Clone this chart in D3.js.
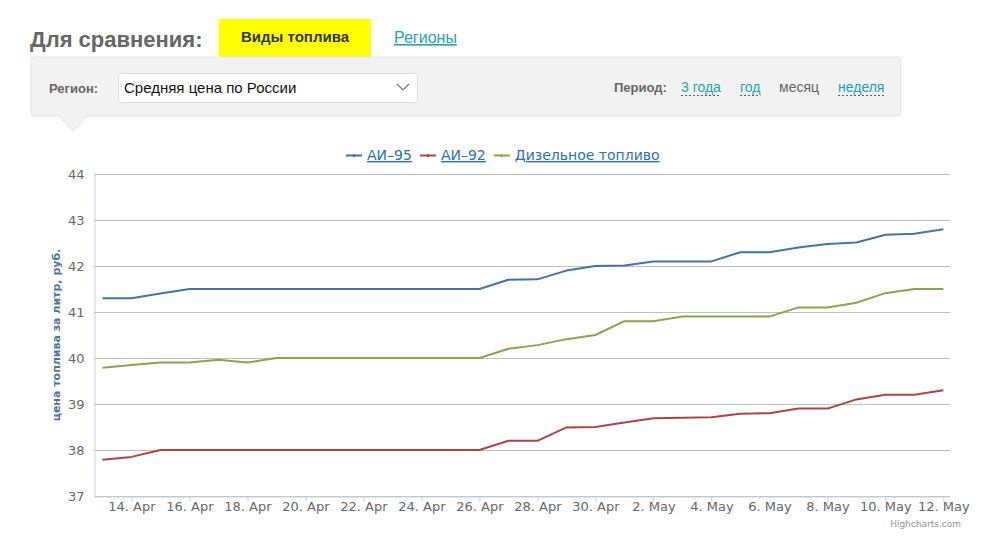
<!DOCTYPE html>
<html>
<head>
<meta charset="utf-8">
<script src="https://cdn.jsdelivr.net/npm/d3@7"></script>
<style>
  body { margin: 0; background: #fff; }
  svg { display: block; }
</style>
</head>
<body>
<svg id="chart" width="986" height="542"></svg>
<script>
// data: daily average fuel prices, rub per litre
const dates = [
  "2015-04-13", "2015-04-14", "2015-04-15", "2015-04-16", "2015-04-17", "2015-04-18",
  "2015-04-19", "2015-04-20", "2015-04-21", "2015-04-22", "2015-04-23", "2015-04-24",
  "2015-04-25", "2015-04-26", "2015-04-27", "2015-04-28", "2015-04-29", "2015-04-30",
  "2015-05-01", "2015-05-02", "2015-05-03", "2015-05-04", "2015-05-05", "2015-05-06",
  "2015-05-07", "2015-05-08", "2015-05-09", "2015-05-10", "2015-05-11", "2015-05-12"
];
const ai95 = [
  41.3, 41.3, 41.4, 41.5, 41.5, 41.5, 41.5, 41.5, 41.5, 41.5, 41.5, 41.5, 41.5, 41.5,
  41.7, 41.71, 41.9, 42.0, 42.01, 42.1, 42.1, 42.1, 42.3, 42.3, 42.4, 42.48, 42.51,
  42.68, 42.7, 42.8
];
const ai92 = [
  37.79, 37.85, 38.0, 38.0, 38.0, 38.0, 38.0, 38.0, 38.0, 38.0, 38.0, 38.0, 38.0, 38.0,
  38.2, 38.2, 38.49, 38.5, 38.6, 38.69, 38.7, 38.71, 38.79, 38.8, 38.9, 38.9, 39.1,
  39.2, 39.2, 39.3
];
const diesel = [
  39.79, 39.85, 39.9, 39.9, 39.96, 39.9, 40.0, 40.0, 40.0, 40.0, 40.0, 40.0, 40.0, 40.0,
  40.2, 40.28, 40.41, 40.5, 40.8, 40.8, 40.9, 40.9, 40.9, 40.9, 41.1, 41.1, 41.2,
  41.41, 41.5, 41.5
];
const seriesNames = ["АИ–95", "АИ–92", "Дизельное топливо"];
const seriesColors = ["#4572a7", "#aa4643", "#89a54e"];
const tickDays = [
  "2015-04-14", "2015-04-16", "2015-04-18", "2015-04-20", "2015-04-22", "2015-04-24",
  "2015-04-26", "2015-04-28", "2015-04-30", "2015-05-02", "2015-05-04", "2015-05-06",
  "2015-05-08", "2015-05-10", "2015-05-12"
];
const yTicks = [37, 38, 39, 40, 41, 42, 43, 44];
const periods = ["3 года", "год", "месяц", "неделя"];

const svg = d3.select("#chart");
const parse = d3.timeParse("%Y-%m-%d");
const fmt = d3.timeFormat("%-d. %b");
const hour = 3600 * 1000;

// ---------- page header ----------
const head = svg.append("g").style("font-family", "'Liberation Sans', Arial, sans-serif");

head.append("text").attr("x", 30).attr("y", 47)
  .attr("font-size", 22).attr("font-weight", "bold").attr("fill", "#666")
  .text("Для сравнения:");

head.append("rect").attr("x", 219).attr("y", 19).attr("width", 152).attr("height", 38)
  .attr("fill", "#ffff00");
head.append("text").attr("x", 295).attr("y", 42).attr("text-anchor", "middle")
  .attr("font-size", 15).attr("font-weight", "bold").attr("fill", "#333")
  .text("Виды топлива");

head.append("text").attr("x", 394).attr("y", 43)
  .attr("font-size", 16).attr("fill", "#2aa0ac")
  .style("text-decoration", "underline")
  .text("Регионы");

// grey panel with pointer
head.append("path")
  .attr("d", "M34,57 H898 Q901,57 901,60 V113 Q901,116 898,116 H87 L73,131 L59,116 H34 Q31,116 31,113 V60 Q31,57 34,57 Z")
  .attr("fill", "#f2f2f2").attr("stroke", "#e4e4e4");

head.append("text").attr("x", 49).attr("y", 93)
  .attr("font-size", 13).attr("font-weight", "bold").attr("fill", "#666")
  .text("Регион:");
head.append("rect").attr("x", 118.5).attr("y", 73.5).attr("width", 299).attr("height", 29)
  .attr("rx", 3).attr("fill", "#fff").attr("stroke", "#ddd");
head.append("text").attr("x", 124).attr("y", 93)
  .attr("font-size", 15).attr("fill", "#111")
  .text("Средняя цена по России");
head.append("path").attr("d", "M397,84 L403,90 L409,84")
  .attr("fill", "none").attr("stroke", "#777").attr("stroke-width", 1.2);

head.append("text").attr("x", 614).attr("y", 92)
  .attr("font-size", 13).attr("font-weight", "bold").attr("fill", "#666")
  .text("Период:");

const periodX = [681, 740, 779, 838];
periods.forEach((p, i) => {
  const active = p === "месяц";
  const t = head.append("text").attr("x", periodX[i]).attr("y", 92)
    .attr("font-size", 14).attr("fill", active ? "#666" : "#2aa0ac")
    .text(p);
  if (!active) {
    const w = t.node().getComputedTextLength();
    head.append("line")
      .attr("x1", periodX[i]).attr("x2", periodX[i] + w)
      .attr("y1", 95.5).attr("y2", 95.5)
      .attr("stroke", "#1a73c9").attr("stroke-dasharray", "2,2");
  }
});

// ---------- chart ----------
const ml = 94, mr = 950, mt = 174, mb = 496;

const x = d3.scaleTime()
  .domain([new Date(+parse(dates[0]) - 7 * hour), new Date(+parse(dates[dates.length - 1]) + 5.5 * hour)])
  .range([ml, mr]);
const y = d3.scaleLinear().domain([37, 44]).range([mb, mt]);

const chart = svg.append("g").style("font-family", "'DejaVu Sans', Verdana, sans-serif");

// gridlines
chart.append("g")
  .selectAll("line")
  .data(yTicks)
  .join("line")
  .attr("x1", ml).attr("x2", mr)
  .attr("y1", d => Math.round(y(d)) + 0.5).attr("y2", d => Math.round(y(d)) + 0.5)
  .attr("stroke", "#c0c0c0");

// y axis
const yAxis = chart.append("g")
  .attr("transform", `translate(${ml + 0.5},0)`)
  .call(d3.axisLeft(y).tickValues(yTicks).tickSize(0).tickPadding(10).tickFormat(d3.format("d")));
yAxis.select(".domain").attr("stroke", "#c0d0e0");
yAxis.selectAll("text").attr("font-size", 13).attr("fill", "#666")
  .attr("font-family", "'DejaVu Sans', Verdana, sans-serif");

chart.append("text")
  .attr("transform", `translate(60,${(mt + mb) / 2}) rotate(-90)`)
  .attr("text-anchor", "middle")
  .attr("font-size", 11).attr("font-weight", "bold").attr("fill", "#4d759e")
  .text("цена топлива за литр, руб.");

// x axis
const xAxis = chart.append("g")
  .attr("transform", `translate(0,${mb + 0.5})`)
  .call(d3.axisBottom(x).tickValues(tickDays.map(parse)).tickFormat(fmt).tickSize(5).tickSizeOuter(0).tickPadding(0));
xAxis.select(".domain").attr("stroke", "#c0d0e0");
xAxis.selectAll(".tick line").attr("stroke", "#c0d0e0");
xAxis.selectAll("text").attr("font-size", 13).attr("fill", "#666")
  .attr("font-family", "'DejaVu Sans', Verdana, sans-serif");

// lines
const series = [ai95, ai92, diesel];
const line = d3.line()
  .x((d, i) => x(parse(dates[i])))
  .y(d => y(d));

chart.append("g")
  .selectAll("path")
  .data(series)
  .join("path")
  .attr("d", line)
  .attr("fill", "none")
  .attr("stroke", (d, i) => seriesColors[i])
  .attr("stroke-width", 2)
  .attr("stroke-linejoin", "round");

// legend
const legend = chart.append("g").attr("transform", "translate(346,160)");
let lx = 0;
seriesNames.forEach((name, i) => {
  const g = legend.append("g").attr("transform", `translate(${lx},0)`);
  g.append("line").attr("x1", 0).attr("x2", 16).attr("y1", -4.5).attr("y2", -4.5)
    .attr("stroke", seriesColors[i]).attr("stroke-width", 2);
  g.append("circle").attr("cx", 8).attr("cy", -4.5).attr("r", 1.5).attr("fill", seriesColors[i]);
  const t = g.append("text").attr("x", 21).attr("y", 0)
    .attr("font-size", 14).attr("fill", "#2a6ebd")
    .style("text-decoration", "underline")
    .text(name);
  lx += 21 + t.node().getComputedTextLength() + 8;
});

// credits
chart.append("text").attr("x", 961).attr("y", 527).attr("text-anchor", "end")
  .attr("font-size", 9).attr("fill", "#909090")
  .text("Highcharts.com");
</script>
</body>
</html>
